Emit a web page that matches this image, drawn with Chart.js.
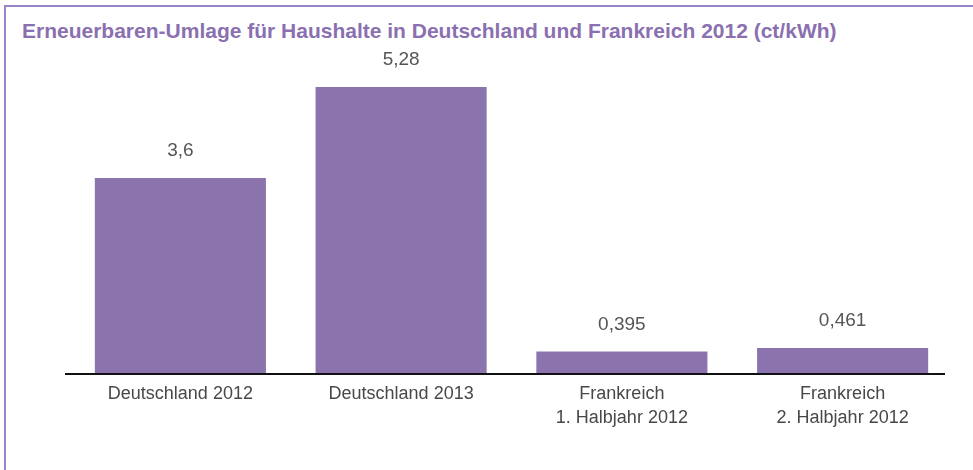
<!DOCTYPE html>
<html>
<head>
<meta charset="utf-8">
<script src="https://cdn.jsdelivr.net/npm/chart.js@4"></script>
<style>
  body { margin: 0; background: #fff; }
  #wrap { position: relative; width: 973px; height: 470px; overflow: hidden; }
  #frame {
    position: absolute; left: 4px; top: 5px; right: -4px; bottom: -4px;
    border-left: 2px solid #9c82c6; border-top: 2px solid #9c82c6;
  }
  #title {
    position: absolute; left: 22px; top: 19px;
    font: bold 21px "Liberation Sans", Arial, sans-serif;
    color: #8a70b0; white-space: nowrap;
  }
  #chart2 { position: absolute; left: 0; top: 0; }
</style>
</head>
<body>
<div id="wrap">
  <div id="frame"></div>
  <div id="title">Erneuerbaren-Umlage für Haushalte in Deutschland und Frankreich 2012 (ct/kWh)</div>
  <canvas id="chart2" width="973" height="470"></canvas>
</div>
<script>
const categories = [
    ['Deutschland 2012'],
    ['Deutschland 2013'],
    ['Frankreich', '1. Halbjahr 2012'],
    ['Frankreich', '2. Halbjahr 2012']
];
const umlage = [3.6, 5.28, 0.395, 0.461];

// value labels above the bars (German decimal comma) + the baseline,
// which in the original starts a bit left of the first category and stops before the last one ends
const extras = {
    id: 'extras',
    afterDatasetsDraw(chart) {
        const ctx = chart.ctx;
        const area = chart.chartArea;
        const meta = chart.getDatasetMeta(0);
        ctx.save();
        ctx.strokeStyle = '#111';
        ctx.lineWidth = 2;
        ctx.beginPath();
        ctx.moveTo(area.left - 5, area.bottom + 1);
        ctx.lineTo(area.right - 8, area.bottom + 1);
        ctx.stroke();

        ctx.font = '19px "Liberation Sans", Arial, sans-serif';
        ctx.fillStyle = '#555';
        ctx.textAlign = 'center';
        ctx.textBaseline = 'middle';
        meta.data.forEach((bar, i) => {
            ctx.fillText(String(umlage[i]).replace('.', ','), bar.x, bar.y - 27);
        });
        ctx.restore();
    }
};

const ctx = document.getElementById('chart2').getContext('2d');
const myChart = new Chart(ctx, {
    type: 'bar',
    data: {
        labels: categories,
        datasets: [{
            data: umlage,
            backgroundColor: '#8b74ad',
            borderWidth: 0,
            categoryPercentage: 1,
            barPercentage: 0.775
        }]
    },
    options: {
        responsive: false,
        animation: false,
        layout: { padding: { left: 70, right: 20, top: 48, bottom: 0 } },
        plugins: {
            legend: { display: false },
            tooltip: { enabled: false }
        },
        scales: {
            x: {
                grid: { display: false, drawTicks: false },
                border: { display: false },
                ticks: {
                    color: '#484848',
                    padding: 10,
                    font: { family: '"Liberation Sans", Arial, sans-serif', size: 18, lineHeight: 1.28 }
                },
                afterFit: s => { s.height = 97; }
            },
            y: {
                display: false,
                min: 0,
                max: 6
            }
        }
    },
    plugins: [extras]
});
</script>
</body>
</html>
